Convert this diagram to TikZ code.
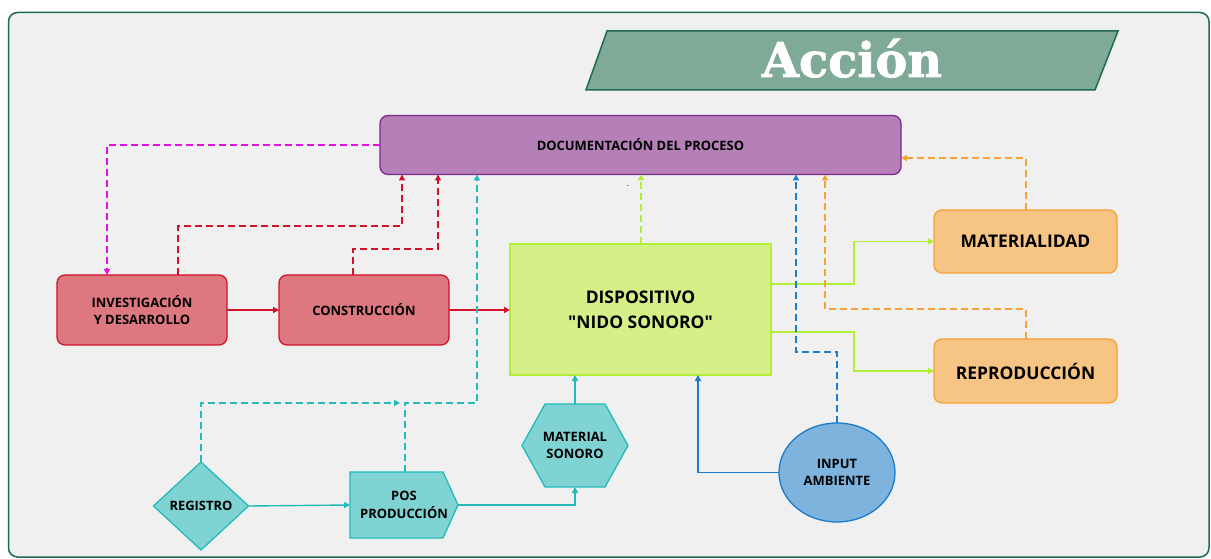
\documentclass[tikz,border=0pt]{standalone}
\usepackage{fontspec}
\setmainfont{Open Sans}[Ligatures=TeXOff]
\newfontfamily\titlefont{DejaVu Serif Bold}[FakeBold=1.6]
\usetikzlibrary{arrows.meta,shapes.geometric}

\definecolor{panelbg}{HTML}{F0F0F0}
\definecolor{panelline}{HTML}{1E6B50}
\definecolor{titlefill}{HTML}{80AA98}
\definecolor{docfill}{HTML}{B57FB8}
\definecolor{docline}{HTML}{7D2A8C}
\definecolor{redfill}{HTML}{DE7880}
\definecolor{redline}{HTML}{D3122A}
\definecolor{magline}{HTML}{E010E0}
\definecolor{limefill}{HTML}{D4F086}
\definecolor{limeline}{HTML}{B2EE36}
\definecolor{orangefill}{HTML}{F6C483}
\definecolor{orangeline}{HTML}{F8A134}
\definecolor{cyanfill}{HTML}{80D3D3}
\definecolor{cyanline}{HTML}{23BABA}
\definecolor{bluefill}{HTML}{7DB3DC}
\definecolor{blueline}{HTML}{1B7CCC}

\tikzset{
  box/.style={draw, line width=1.3bp, rounded corners=8bp, align=center, inner sep=0pt, outer sep=0pt,
    font=\bfseries\fontsize{13}{17.5}\selectfont},
  bigbox/.style={box, font=\bfseries\fontsize{17.5}{25}\selectfont},
  flow/.style={line width=1.4bp, -{Triangle[width=6bp,length=6bp]}},
  dashflow/.style={flow, dash pattern=on 7bp off 4bp},
}

\begin{document}
\begin{tikzpicture}[x=1bp,y=-1bp]
	\useasboundingbox[fill=white] (0,0) rectangle (1211,559);
	\draw[panelline, fill=panelbg, rounded corners=9bp, line width=1.5bp] (8.5,12.5) rectangle (1209,557);
	% title
	\draw[panelline, fill=titlefill, line width=1.5bp] (586,90) -- (607,31) -- (1118,31) -- (1095,90) -- cycle;
	\node[anchor=base, text=white, font=\titlefont\fontsize{48}{48}\selectfont] (title) at (852,77) {Acción};
	% boxes
	\node[box, fill=docfill, draw=docline, minimum width=521bp, minimum height=59bp] (doc) at (640.5,145) {DOCUMENTACIÓN DEL PROCESO};
	\node[box, fill=redfill, draw=redline, minimum width=170bp, minimum height=70bp] (inv) at (142,310) {INVESTIGACIÓN\\Y DESARROLLO};
	\node[box, fill=redfill, draw=redline, minimum width=170bp, minimum height=70bp] (cons) at (364,310) {CONSTRUCCIÓN};
	\node[bigbox, sharp corners, fill=limefill, draw=limeline, minimum width=261bp, minimum height=131bp] (disp) at (640.5,309.5) {DISPOSITIVO\\"NIDO SONORO"};
	\node[bigbox, fill=orangefill, draw=orangeline, minimum width=183bp, minimum height=63bp] (mat) at (1025.5,241.5) {MATERIALIDAD};
	\node[bigbox, fill=orangefill, draw=orangeline, minimum width=183bp, minimum height=64bp] (repro) at (1025.5,371) {REPRODUCCIÓN};
	\node[box, diamond, sharp corners, fill=cyanfill, draw=cyanline, minimum width=95bp, minimum height=88bp] (reg) at (201,506) {REGISTRO};
	\node[box, ellipse, fill=bluefill, draw=blueline, minimum width=116bp, minimum height=99bp] (input) at (837,472.5) {INPUT\\AMBIENTE};
	% pos produccion and material sonoro
	\node[minimum width=108bp, minimum height=66bp, outer sep=0pt] (pos) at (404,505) {};
	\draw[cyanline, fill=cyanfill, line width=1.3bp] (pos.north west) -- ([xshift=-15bp]pos.north east) -- (pos.east)
		-- ([xshift=-15bp]pos.south east) -- (pos.south west) -- cycle;
	\node[box, draw=none] (postext) at (pos) {POS\\PRODUCCIÓN};
	\node[minimum width=106bp, minimum height=83bp, outer sep=0pt] (msonoro) at (575,445.5) {};
	\draw[cyanline, fill=cyanfill, line width=1.3bp] (msonoro.west) -- ([xshift=23bp]msonoro.north west) -- ([xshift=-23bp]msonoro.north east)
		-- (msonoro.east) -- ([xshift=-23bp]msonoro.south east) -- ([xshift=23bp]msonoro.south west) -- cycle;
	\node[box, draw=none] (msonorotext) at (msonoro) {MATERIAL\\SONORO};
	\node[font=\fontsize{8}{8}\selectfont, inner sep=0pt] (stray) at (628,186) {.};
	% solid flows
	\draw[flow, redline] (inv) -- (cons);
	\draw[flow, redline] (cons.east) -- (cons.east -| disp.west);
	\draw[flow, limeline] ([yshift=25.5bp]disp.east) -- ++(83,0) |- (mat.west);
	\draw[flow, limeline] ([yshift=-22.5bp]disp.east) -- ++(83,0) |- (repro.west);
	\draw[flow, blueline] (input.west) -| ([xshift=57.5bp]disp.south);
	\draw[flow, cyanline] (reg.east) -- (pos.west);
	\draw[flow, cyanline] (pos.east) -| (msonoro.south);
	\draw[flow, cyanline] (msonoro.north) -- (msonoro.north |- disp.south);
	% dashed flows
	\coordinate (cyanmeet) at (400,403);
	\draw[dashflow, magline] (doc.west) -| ([xshift=-35bp]inv.north);
	\draw[dashflow, redline] ([xshift=36bp]inv.north) -- ++(0,-49) -| ([xshift=-238.5bp]doc.south);
	\draw[dashflow, redline] ([xshift=-11bp]cons.north) -- ++(0,-26) -| ([xshift=-202.5bp]doc.south);
	\draw[dashflow, cyanline] (reg.north) |- (cyanmeet);
	\draw[dashflow, cyanline] ([xshift=1bp]pos.north) -- ++(0,-69) -| ([xshift=-163.5bp]doc.south);
	\draw[dashflow, limeline] ([xshift=0.5bp]disp.north) -- ([xshift=0.5bp]doc.south);
	\draw[dashflow, blueline] (input.north) -- ++(0,-71) -| ([xshift=155.5bp]doc.south);
	\draw[dashflow, orangeline] ([xshift=0.5bp]mat.north) |- ([yshift=-13bp]doc.east);
	\draw[dashflow, orangeline] ([xshift=0.5bp]repro.north) -- ++(0,-30) -| ([xshift=184.5bp]doc.south);
\end{tikzpicture}
\end{document}
